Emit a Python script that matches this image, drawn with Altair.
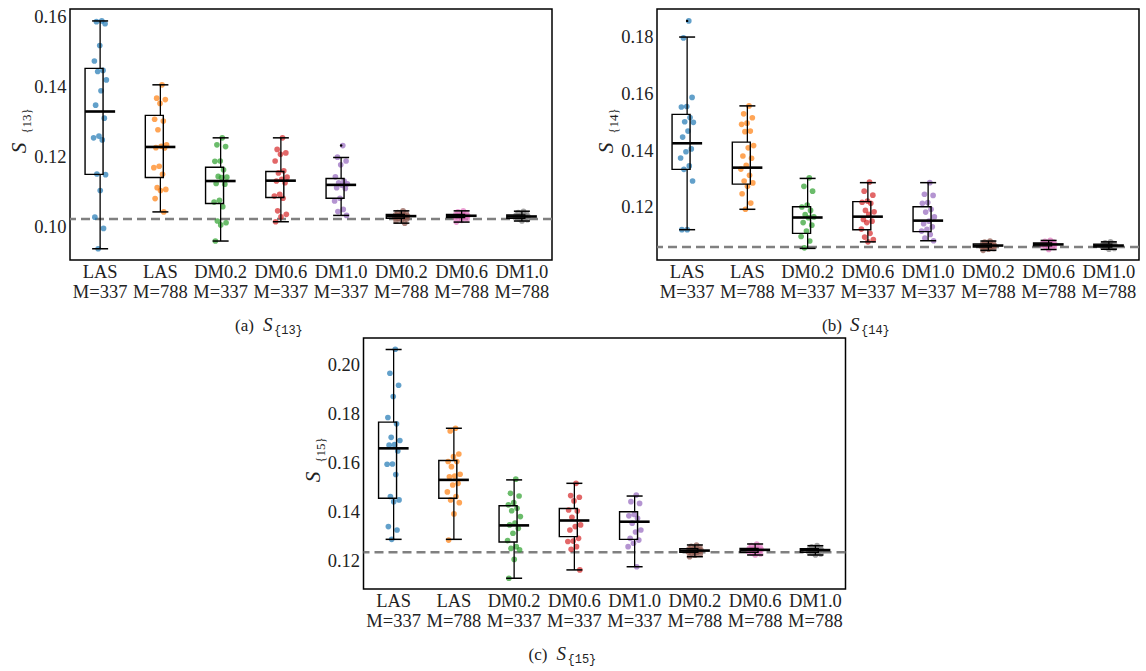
import altair as alt
import pandas as pd

# ---------------- data ----------------
CATEGORIES = ["LAS|M=337", "LAS|M=788", "DM0.2|M=337", "DM0.6|M=337",
              "DM1.0|M=337", "DM0.2|M=788", "DM0.6|M=788", "DM1.0|M=788"]
COLORS = ["#1f77b4", "#ff7f0e", "#2ca02c", "#d62728",
          "#9467bd", "#8c564b", "#e377c2", "#7f7f7f"]

# (a) S_{13}
A_LO = [0.0937, 0.1042, 0.0959, 0.1014, 0.1032, 0.1010, 0.1013, 0.1016]
A_Q1 = [0.1149, 0.1140, 0.1066, 0.1083, 0.1081, 0.1024, 0.1026, 0.1024]
A_MED = [0.1328, 0.1227, 0.1130, 0.1131, 0.1119, 0.1030, 0.1031, 0.1029]
A_Q3 = [0.1451, 0.1317, 0.1169, 0.1157, 0.1137, 0.1035, 0.1035, 0.1033]
A_HI = [0.1586, 0.1404, 0.1253, 0.1253, 0.1197, 0.1045, 0.1045, 0.1044]
A_POINTS = [
    [0.1586, 0.1584, 0.1578, 0.1516, 0.1472, 0.1445, 0.1442, 0.1418, 0.1387, 0.1346,
     0.1309, 0.1258, 0.1253, 0.1247, 0.1150, 0.1148, 0.1103, 0.1027, 0.0995, 0.0937],
    [0.1404, 0.1366, 0.1362, 0.1351, 0.1306, 0.1301, 0.1276, 0.1233, 0.1229, 0.1225,
     0.1224, 0.1172, 0.1168, 0.1149, 0.1111, 0.1106, 0.1103, 0.1080, 0.1042],
    [0.1253, 0.1233, 0.1228, 0.1187, 0.1186, 0.1162, 0.1143, 0.1141, 0.1140, 0.1123,
     0.1121, 0.1075, 0.1070, 0.1057, 0.1016, 0.1011, 0.1005, 0.0959],
    [0.1253, 0.1220, 0.1210, 0.1206, 0.1187, 0.1159, 0.1153, 0.1141, 0.1135, 0.1130,
     0.1125, 0.1092, 0.1087, 0.1081, 0.1045, 0.1035, 0.1028, 0.1014],
    [0.1231, 0.1198, 0.1187, 0.1176, 0.1142, 0.1130, 0.1125, 0.1122, 0.1118, 0.1111,
     0.1109, 0.1081, 0.1073, 0.1049, 0.1043, 0.1032],
    [0.1045, 0.1040, 0.1037, 0.1035, 0.1034, 0.1033, 0.1031, 0.1030, 0.1030, 0.1029,
     0.1028, 0.1027, 0.1026, 0.1025, 0.1024, 0.1022, 0.1020, 0.1016, 0.1010],
    [0.1045, 0.1042, 0.1038, 0.1036, 0.1035, 0.1034, 0.1032, 0.1031, 0.1031, 0.1030,
     0.1029, 0.1028, 0.1027, 0.1026, 0.1025, 0.1022, 0.1018, 0.1013],
    [0.1044, 0.1040, 0.1036, 0.1034, 0.1033, 0.1032, 0.1030, 0.1029, 0.1029, 0.1028,
     0.1027, 0.1026, 0.1025, 0.1024, 0.1023, 0.1020, 0.1016],
]
A_FLIER_CATS = ["DM1.0|M=337"]
A_FLIER_VALS = [0.1231]
A_REF = 0.1022
A_DOMAIN = [0.0905, 0.1620]
A_TICKS = [0.10, 0.12, 0.14, 0.16]

# (b) S_{14}
B_LO = [0.1119, 0.1191, 0.1053, 0.1076, 0.1080, 0.1046, 0.1049, 0.1050]
B_Q1 = [0.1332, 0.1280, 0.1106, 0.1119, 0.1112, 0.1058, 0.1062, 0.1058]
B_MED = [0.1424, 0.1338, 0.1162, 0.1165, 0.1151, 0.1063, 0.1067, 0.1063]
B_Q3 = [0.1526, 0.1428, 0.1200, 0.1218, 0.1200, 0.1069, 0.1072, 0.1068]
B_HI = [0.1799, 0.1556, 0.1300, 0.1285, 0.1285, 0.1079, 0.1081, 0.1076]
B_POINTS = [
    [0.1856, 0.1796, 0.1586, 0.1554, 0.1552, 0.1515, 0.1500, 0.1498, 0.1467, 0.1446,
     0.1404, 0.1394, 0.1372, 0.1344, 0.1332, 0.1291, 0.1119, 0.1119],
    [0.1556, 0.1528, 0.1514, 0.1495, 0.1491, 0.1467, 0.1465, 0.1416, 0.1408, 0.1379,
     0.1371, 0.1346, 0.1333, 0.1311, 0.1291, 0.1284, 0.1272, 0.1246, 0.1213, 0.1191],
    [0.1302, 0.1272, 0.1255, 0.1206, 0.1199, 0.1187, 0.1172, 0.1164, 0.1161, 0.1144,
     0.1135, 0.1114, 0.1095, 0.1079, 0.1055],
    [0.1287, 0.1255, 0.1241, 0.1220, 0.1216, 0.1212, 0.1187, 0.1182, 0.1173, 0.1155,
     0.1149, 0.1144, 0.1121, 0.1106, 0.1093, 0.1084, 0.1076],
    [0.1285, 0.1244, 0.1240, 0.1215, 0.1212, 0.1191, 0.1181, 0.1164, 0.1149, 0.1140,
     0.1129, 0.1120, 0.1114, 0.1102, 0.1089, 0.1080],
    [0.1079, 0.1075, 0.1072, 0.1070, 0.1068, 0.1066, 0.1064, 0.1063, 0.1063, 0.1062,
     0.1061, 0.1060, 0.1059, 0.1058, 0.1056, 0.1053, 0.1050, 0.1046],
    [0.1081, 0.1078, 0.1075, 0.1073, 0.1072, 0.1070, 0.1068, 0.1067, 0.1067, 0.1066,
     0.1065, 0.1064, 0.1063, 0.1062, 0.1060, 0.1056, 0.1049],
    [0.1076, 0.1073, 0.1070, 0.1068, 0.1067, 0.1065, 0.1064, 0.1063, 0.1063, 0.1062,
     0.1061, 0.1060, 0.1059, 0.1058, 0.1056, 0.1053, 0.1050],
]
B_FLIER_CATS = ["LAS|M=337"]
B_FLIER_VALS = [0.1856]
B_REF = 0.1058
B_DOMAIN = [0.1012, 0.1898]
B_TICKS = [0.12, 0.14, 0.16, 0.18]

# (c) S_{15}
C_LO = [0.1287, 0.1287, 0.1128, 0.1162, 0.1175, 0.1216, 0.1223, 0.1223]
C_Q1 = [0.1455, 0.1455, 0.1276, 0.1298, 0.1287, 0.1234, 0.1234, 0.1234]
C_MED = [0.1659, 0.1530, 0.1344, 0.1364, 0.1359, 0.1241, 0.1244, 0.1243]
C_Q3 = [0.1766, 0.1609, 0.1424, 0.1413, 0.1400, 0.1249, 0.1250, 0.1249]
C_HI = [0.2063, 0.1741, 0.1530, 0.1516, 0.1464, 0.1264, 0.1268, 0.1261]
C_POINTS = [
    [0.2064, 0.1966, 0.1917, 0.1871, 0.1785, 0.1759, 0.1704, 0.1691, 0.1674, 0.1672,
     0.1648, 0.1595, 0.1594, 0.1552, 0.1462, 0.1448, 0.1441, 0.1339, 0.1325, 0.1287],
    [0.1741, 0.1730, 0.1636, 0.1625, 0.1605, 0.1605, 0.1584, 0.1553, 0.1546, 0.1543,
     0.1516, 0.1509, 0.1481, 0.1462, 0.1448, 0.1437, 0.1391, 0.1284],
    [0.1533, 0.1475, 0.1464, 0.1437, 0.1428, 0.1414, 0.1404, 0.1380, 0.1353, 0.1346,
     0.1332, 0.1312, 0.1282, 0.1257, 0.1250, 0.1244, 0.1205, 0.1128],
    [0.1516, 0.1466, 0.1459, 0.1444, 0.1407, 0.1403, 0.1377, 0.1346, 0.1339, 0.1325,
     0.1291, 0.1280, 0.1278, 0.1257, 0.1246, 0.1162],
    [0.1468, 0.1441, 0.1434, 0.1389, 0.1383, 0.1373, 0.1353, 0.1325, 0.1317, 0.1291,
     0.1284, 0.1271, 0.1257, 0.1175],
    [0.1264, 0.1258, 0.1254, 0.1250, 0.1248, 0.1246, 0.1243, 0.1242, 0.1241, 0.1240,
     0.1239, 0.1237, 0.1235, 0.1234, 0.1231, 0.1227, 0.1222, 0.1216],
    [0.1268, 0.1262, 0.1256, 0.1252, 0.1250, 0.1248, 0.1246, 0.1245, 0.1244, 0.1243,
     0.1241, 0.1239, 0.1236, 0.1234, 0.1231, 0.1227, 0.1223],
    [0.1261, 0.1256, 0.1252, 0.1250, 0.1248, 0.1246, 0.1244, 0.1243, 0.1242, 0.1241,
     0.1239, 0.1237, 0.1235, 0.1234, 0.1231, 0.1227, 0.1223],
]
C_FLIER_CATS = []
C_FLIER_VALS = []
C_REF = 0.1234
C_DOMAIN = [0.1084, 0.2110]
C_TICKS = [0.12, 0.14, 0.16, 0.18, 0.20]

# ---------------- style ----------------
SERIF = "Liberation Serif"
MONO = "Liberation Mono"
TXT = "#222222"
W, H = 482, 251


def text_layer(s, x, y, size, font=SERIF, style="normal", angle=0,
               align="center", weight="normal"):
    return alt.Chart(pd.DataFrame({"t": [s]})).mark_text(
        font=font, fontSize=size, fontStyle=style, fontWeight=weight,
        angle=angle, align=align, baseline="middle", color=TXT
    ).encode(text="t:N", x=alt.value(x), y=alt.value(y))


def build_panel(letter, number, lo, q1, med, q3, hi, points, fcats, fvals,
                ref, domain, ticks):
    stats = pd.DataFrame({"cat": CATEGORIES, "lo": lo, "q1": q1,
                          "med": med, "q3": q3, "hi": hi})
    pts = pd.DataFrame([{"cat": c, "v": v, "idx": i}
                        for c, vals in zip(CATEGORIES, points)
                        for i, v in enumerate(vals)])
    fl = pd.DataFrame({"cat": fcats, "v": fvals})
    refdf = pd.DataFrame({"ref": [ref]})

    xaxis = alt.Axis(title=None, labelAngle=0,
                     labelExpr="split(datum.label, '|')",
                     ticks=False, domain=False, grid=False, labelPadding=2,
                     labelFontSize=18.5, labelLineHeight=20, labelFont=SERIF,
                     labelColor=TXT)
    yaxis = alt.Axis(title=None, values=ticks, format=".2f", ticks=False,
                     domain=False, grid=False, labelPadding=4,
                     labelFontSize=18.5, labelFont=SERIF, labelColor=TXT)
    xscale = alt.Scale(type="band", domain=CATEGORIES, paddingInner=0,
                       paddingOuter=0)
    yscale = alt.Scale(domain=domain, nice=False, zero=False)

    def X():
        return alt.X("cat:N", scale=xscale, axis=xaxis, sort=CATEGORIES)

    def Y(f):
        return alt.Y(f, scale=yscale, axis=yaxis)

    ref_rule = alt.Chart(refdf).mark_rule(
        color="#808080", strokeWidth=2.5, strokeDash=[9, 5]
    ).encode(y=Y("ref:Q"))
    dots = alt.Chart(pts).transform_calculate(
        jit="((datum.idx + 1) * 0.618034) % 1 * 2 - 1"
    ).mark_circle(size=32, opacity=0.7).encode(
        x=X(),
        xOffset=alt.XOffset("jit:Q", scale=alt.Scale(domain=[-4.3, 4.3])),
        y=Y("v:Q"),
        color=alt.Color("cat:N", scale=alt.Scale(domain=CATEGORIES, range=COLORS),
                        legend=None),
    )
    whisk_lo = alt.Chart(stats).mark_rule(color="black", strokeWidth=1.3).encode(
        x=X(), y=Y("lo:Q"), y2="q1:Q")
    whisk_hi = alt.Chart(stats).mark_rule(color="black", strokeWidth=1.3).encode(
        x=X(), y=Y("q3:Q"), y2="hi:Q")
    box = alt.Chart(stats).mark_bar(
        width=alt.RelativeBandSize(0.5), fillOpacity=0, stroke="black",
        strokeWidth=1.4, strokeOpacity=1
    ).encode(x=X(), y=Y("q1:Q"), y2="q3:Q")
    cap_lo = alt.Chart(stats).mark_tick(color="black", size=16, thickness=1.5,
                                        opacity=1).encode(x=X(), y=Y("lo:Q"))
    cap_hi = alt.Chart(stats).mark_tick(color="black", size=16, thickness=1.5,
                                        opacity=1).encode(x=X(), y=Y("hi:Q"))
    median = alt.Chart(stats).mark_tick(color="black", size=30, thickness=2.6,
                                        opacity=1).encode(x=X(), y=Y("med:Q"))
    layers = [ref_rule, dots, whisk_lo, whisk_hi, box, cap_lo, cap_hi, median]
    if len(fvals):
        fliers = alt.Chart(fl).mark_circle(size=6, color="black", opacity=1).encode(
            x=X(), y=Y("v:Q"))
        layers.append(fliers)

    sub = "{" + number + "}"
    layers += [
        text_layer("S", -50, 139, 21, style="italic", angle=270),
        text_layer(sub, -43, 112, 13, angle=270),
        text_layer("(" + letter + ")", 165, 317, 17, align="left"),
        text_layer("S", 193, 316, 19, style="italic", align="left"),
        text_layer(sub, 204, 321, 12, font=MONO, align="left"),
    ]
    return alt.layer(*layers).properties(width=W, height=H)


pa = build_panel("a", "13", A_LO, A_Q1, A_MED, A_Q3, A_HI, A_POINTS,
                 A_FLIER_CATS, A_FLIER_VALS, A_REF, A_DOMAIN, A_TICKS)
pb = build_panel("b", "14", B_LO, B_Q1, B_MED, B_Q3, B_HI, B_POINTS,
                 B_FLIER_CATS, B_FLIER_VALS, B_REF, B_DOMAIN, B_TICKS)
pc = build_panel("c", "15", C_LO, C_Q1, C_MED, C_Q3, C_HI, C_POINTS,
                 C_FLIER_CATS, C_FLIER_VALS, C_REF, C_DOMAIN, C_TICKS)

row1 = alt.hconcat(pa, pb, spacing=41)
chart = alt.vconcat(row1, pc, spacing=0, center=True).configure_view(
    stroke="black", strokeWidth=1.5
).properties(padding={"left": 8, "top": 6, "right": 0, "bottom": 0})

chart.save("out.html", embed_options={"renderer": "svg", "actions": False})
